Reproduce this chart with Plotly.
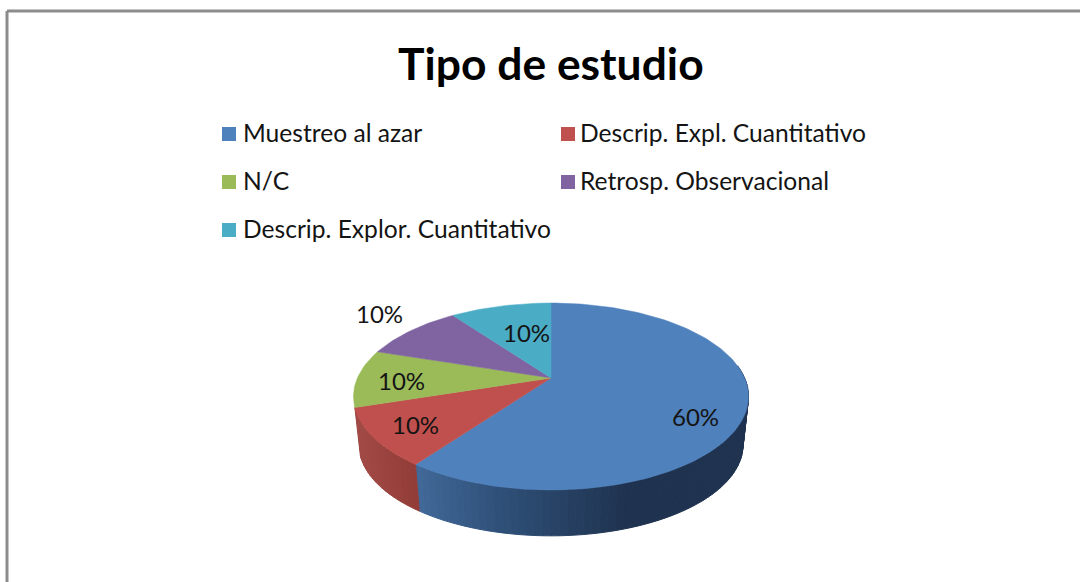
import math
import plotly.graph_objects as go

# ---- data ----
categories = ["Muestreo al azar", "Descrip. Expl. Cuantitativo", "N/C",
              "Retrosp. Observacional", "Descrip. Explor. Cuantitativo"]
values = [60, 10, 10, 10, 10]
title_text = "Tipo de estudio"

# ---- style ----
colors = ["#4F81BD", "#C0504D", "#9BBB59", "#8064A2", "#4BACC6"]
FONT = "Lato"
TEXT = "#141414"

# perspective view of the pie disc
CX, CY = 551.0, 378.0
A, B, K = 193.6, 89.8, 0.198
DEPTH, SHRINK = 49.0, 0.972


def project(theta_deg, lower=False):
    t = math.radians(theta_deg)
    u, v = math.sin(t), math.cos(t)
    w = 1 + K * v
    s = SHRINK if lower else 1.0
    return CX + s * A * u / w, CY + (DEPTH if lower else 0) - s * B * v / w


def lerp_stops(x, stops):
    if x <= stops[0][0]:
        return stops[0][1]
    for (x0, c0), (x1, c1) in zip(stops, stops[1:]):
        if x <= x1:
            f = (x - x0) / (x1 - x0)
            return tuple(round(a + (b - a) * f) for a, b in zip(c0, c1))
    return stops[-1][1]


blue_side = [(420, (64, 104, 152)), (500, (47, 80, 120)), (625, (31, 51, 80)), (750, (31, 51, 80))]
red_side = [(356, (162, 74, 70)), (417, (146, 60, 56))]

fig = go.Figure()

# slice angles from the values
total = sum(values)
edges = [0.0]
for val in values:
    edges.append(edges[-1] + 360.0 * val / total)

# side wall (only the front-facing part of the first two slices)
def side(start, end, stops, name):
    t = start
    while t < end - 1e-9:
        t2 = min(t + 2.0, end)
        pts = [project(t), project(t2), project(t2, True), project(t, True)]
        xm = sum(p[0] for p in pts) / 4
        col = "rgb(%d,%d,%d)" % lerp_stops(xm, stops)
        fig.add_trace(go.Scatter(
            x=[p[0] for p in pts] + [pts[0][0]], y=[p[1] for p in pts] + [pts[0][1]],
            mode="lines", fill="toself", fillcolor=col, line=dict(color=col, width=1),
            hoverinfo="skip", showlegend=False, name=name))
        t = t2


side(82.0, edges[1], blue_side, categories[0])
side(edges[1], edges[2], red_side, categories[1])

# top faces
for i, cat in enumerate(categories):
    n = max(2, int((edges[i + 1] - edges[i]) / 1.5))
    rim = [project(edges[i] + (edges[i + 1] - edges[i]) * j / n) for j in range(n + 1)]
    xs = [CX] + [p[0] for p in rim] + [CX]
    ys = [CY] + [p[1] for p in rim] + [CY]
    fig.add_trace(go.Scatter(x=xs, y=ys, mode="lines", fill="toself", fillcolor=colors[i],
                             line=dict(color=colors[i], width=0.5), name=cat,
                             hoverinfo="name", showlegend=False))

# legend
legend_x = [229, 568, 229, 568, 229]
legend_y = [134, 134, 182, 182, 230]
legend_text_x = [241, 578, 241, 578, 241]
fig.add_trace(go.Scatter(x=legend_x, y=legend_y, mode="markers",
                         marker=dict(symbol="square", size=14, color=colors, line=dict(width=0)),
                         hoverinfo="skip", showlegend=False))

annotations = [dict(x=tx, y=ly - 1.5, text=cat, xref="x", yref="y", xanchor="left", yanchor="middle",
                    showarrow=False, font=dict(family=FONT, size=24.6, color=TEXT))
               for tx, ly, cat in zip(legend_text_x, legend_y, categories)]

# percentage labels
label_pos = [(695, 416), (415, 424), (401, 380), (379, 313), (526, 332)]
for (lx, ly), val in zip(label_pos, values):
    annotations.append(dict(x=lx, y=ly, text=f"{round(100 * val / total)}%", xref="x", yref="y",
                            showarrow=False, font=dict(family=FONT, size=24, color=TEXT)))

# title
annotations.append(dict(x=551, y=62, text=f"<b>{title_text}</b>", xref="x", yref="y", showarrow=False,
                        font=dict(family=FONT, size=44.4, color="#000000")))

shapes = [
    dict(type="line", x0=7, x1=1080, y0=11, y1=11, xref="x", yref="y", line=dict(color="#8c8c8c", width=3)),
    dict(type="line", x0=7, x1=7, y0=11, y1=582, xref="x", yref="y", line=dict(color="#8c8c8c", width=3)),
]

fig.update_layout(
    width=1080, height=582, margin=dict(l=0, r=0, t=0, b=0),
    paper_bgcolor="white", plot_bgcolor="white", showlegend=False,
    xaxis=dict(range=[0, 1080], visible=False, fixedrange=True),
    yaxis=dict(range=[582, 0], visible=False, fixedrange=True),
    annotations=annotations, shapes=shapes,
)
fig.write_html("out.html", post_script="document.body.style.margin='0';", config={"displayModeBar": False})
